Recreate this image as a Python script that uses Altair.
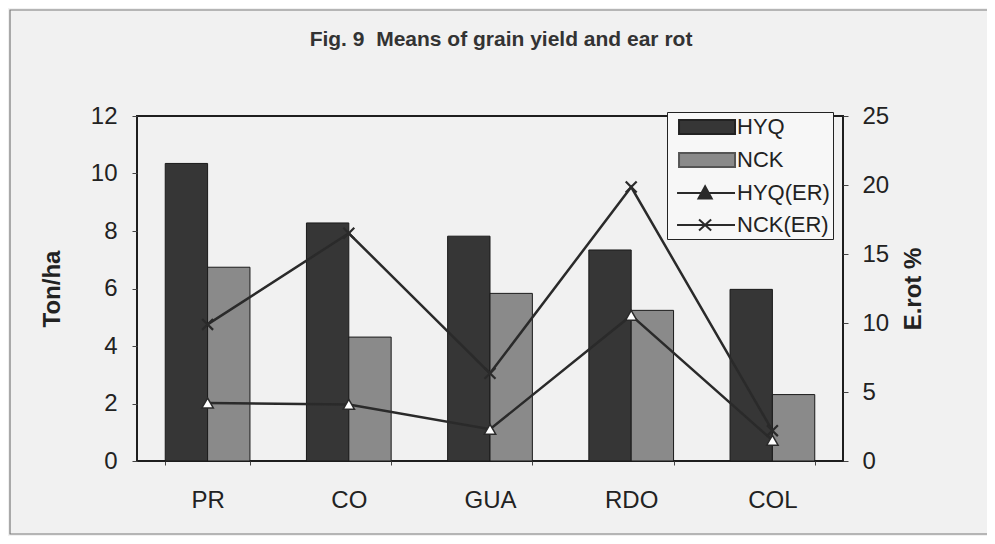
import altair as alt
import pandas as pd

# ---- data ----
sites = ["PR", "CO", "GUA", "RDO", "COL"]
bar_series = ["HYQ", "NCK"]
er_series = ["HYQ(ER)", "NCK(ER)"]
hyq_yield = [10.35, 8.28, 7.82, 7.34, 5.97]
nck_yield = [6.74, 4.31, 5.83, 5.24, 2.31]
hyq_er = [4.2, 4.1, 2.3, 10.55, 1.5]
nck_er = [9.9, 16.5, 6.35, 19.85, 2.2]
left_ticks = [0, 2, 4, 6, 8, 10, 12]
right_ticks = [0, 5, 10, 15, 20, 25]
chart_title = "Fig. 9\u00a0 Means of grain yield and ear rot"
left_title = "Ton/ha"
right_title = "E.rot %"

bars_df = pd.DataFrame({
    "site": sites * 2,
    "series": [bar_series[0]] * 5 + [bar_series[1]] * 5,
    "value": hyq_yield + nck_yield,
})
er_df = pd.DataFrame({
    "site": sites * 2,
    "series": [er_series[0]] * 5 + [er_series[1]] * 5,
    "value": hyq_er + nck_er,
})
legend_df = pd.DataFrame({"series": bar_series + er_series})

FONT = "Liberation Sans, Arial, sans-serif"
TFONT = "Liberation Sans Narrow, Arial Narrow, Liberation Sans, Arial, sans-serif"
INK = "#2a2a2a"

x_enc = alt.X(
    "site:N", sort=sites, title=None,
    scale=alt.Scale(paddingInner=0.4, paddingOuter=0.2),
    axis=alt.Axis(labelAngle=0, labelFontSize=24, labelFont=FONT, labelColor="#222",
                  tickSize=4, tickColor="#444", labelPadding=23, domain=False,
                  tickBand="extent"),
)

left_axis = alt.Axis(orient="left", values=left_ticks, grid=False, domain=False,
                     tickSize=5, tickColor="#444", labelPadding=15,
                     labelFontSize=24, labelFont=FONT, labelColor="#222",
                     title=left_title, titleFont=FONT, titleFontSize=24,
                     titleFontWeight="bold", titleColor="#222", titlePadding=26)
right_axis = alt.Axis(orient="right", values=right_ticks, grid=False, domain=False,
                      tickSize=5, tickColor="#444", labelPadding=14,
                      labelFontSize=24, labelFont=FONT, labelColor="#222",
                      title=right_title, titleFont=FONT, titleFontSize=24,
                      titleFontWeight="bold", titleColor="#222", titlePadding=37,
                      titleAngle=270)

bars = alt.Chart(bars_df).mark_bar(stroke="#1a1a1a", strokeWidth=1).encode(
    x=x_enc,
    xOffset=alt.XOffset("series:N", sort=bar_series,
                        scale=alt.Scale(paddingInner=0, paddingOuter=0)),
    y=alt.Y("value:Q", scale=alt.Scale(domain=[0, 12], nice=False), axis=left_axis),
    color=alt.Color("series:N", scale=alt.Scale(domain=bar_series,
                                                range=["#363636", "#8a8a8a"]),
                    legend=None),
)

y_right = alt.Y("value:Q", scale=alt.Scale(domain=[0, 25], nice=False), axis=right_axis)

lines = alt.Chart(er_df).mark_line(color=INK, strokeWidth=2.5).encode(
    x=x_enc, y=y_right, detail="series:N", order=alt.Order("idx:Q")
).transform_calculate(idx="indexof(['PR','CO','GUA','RDO','COL'], datum.site)")

tri = alt.Chart(er_df).transform_filter(
    alt.datum.series == er_series[0]
).mark_point(shape="triangle-up", filled=True, fill="white", stroke=INK,
             strokeWidth=1.5, size=130, opacity=1).encode(x=x_enc, y=y_right)

xmark = alt.Chart(er_df).transform_filter(
    alt.datum.series == er_series[1]
).mark_point(shape="M-1,-1L1,1M-1,1L1,-1", filled=False, stroke=INK,
             strokeWidth=2.2, size=120, opacity=1).encode(x=x_enc, y=y_right)

# legend-only layer (no marks drawn, entries come from explicit domains)
leg_domain = bar_series + er_series
leg_paths = [
    "M-0.27,-0.64H4.82V0.64H-0.27Z",
    "M-0.27,-0.64H4.82V0.64H-0.27Z",
    "M-0.45,0H4.82M1.5,0.5L2.1,-0.6L2.7,0.5Z",
    "M-0.45,0H4.82M1.55,-0.5L2.65,0.5M1.55,0.5L2.65,-0.5",
]
leg = alt.Legend(title=None, orient="none", legendX=530, legendY=-4,
                 fillColor="#f7f7f7", strokeColor="#222", padding=3,
                 labelFont=FONT, labelFontSize=22, labelColor="#222",
                 labelOffset=43, symbolSize=484, symbolStrokeWidth=2,
                 rowPadding=9, symbolOpacity=1)
legend_layer = alt.Chart(legend_df).transform_filter("false").mark_point(
    filled=False, strokeWidth=2
).encode(
    shape=alt.Shape("series:N", scale=alt.Scale(domain=leg_domain, range=leg_paths), legend=leg),
    fill=alt.Fill("series:N", scale=alt.Scale(domain=leg_domain,
                  range=["#363636", "#8a8a8a", INK, INK]), legend=leg),
    stroke=alt.Stroke("series:N", scale=alt.Scale(domain=leg_domain,
                      range=["#222222", "#555555", INK, INK]), legend=leg),
)

frame = alt.Chart(pd.DataFrame({"k": [0]})).mark_rect(
    fill=None, stroke="#7a7a7a", strokeWidth=1.2
).encode(x=alt.value(-127), x2=alt.value(854), y=alt.value(-106), y2=alt.value(418))

right_group = alt.layer(lines, tri, xmark, legend_layer)

chart = alt.layer(frame, bars, right_group).resolve_scale(
    y="independent"
).properties(
    width=706, height=345,
    autosize=alt.AutoSizeParams(type="none"),
    padding={"left": 129, "top": 108, "right": 144, "bottom": 75},
    background="#f1f1f1",
    title=alt.TitleParams(chart_title, font=TFONT, fontSize=21, fontWeight="bold",
                          color="#333", anchor="middle", offset=-58, dx=11,
                          baseline="alphabetic", frame="group"),
).configure_view(
    fill="#b7b7b7", stroke="#1e1e1e", strokeWidth=2
)

chart.save("out.html", embed_options={"renderer": "svg", "actions": False})
